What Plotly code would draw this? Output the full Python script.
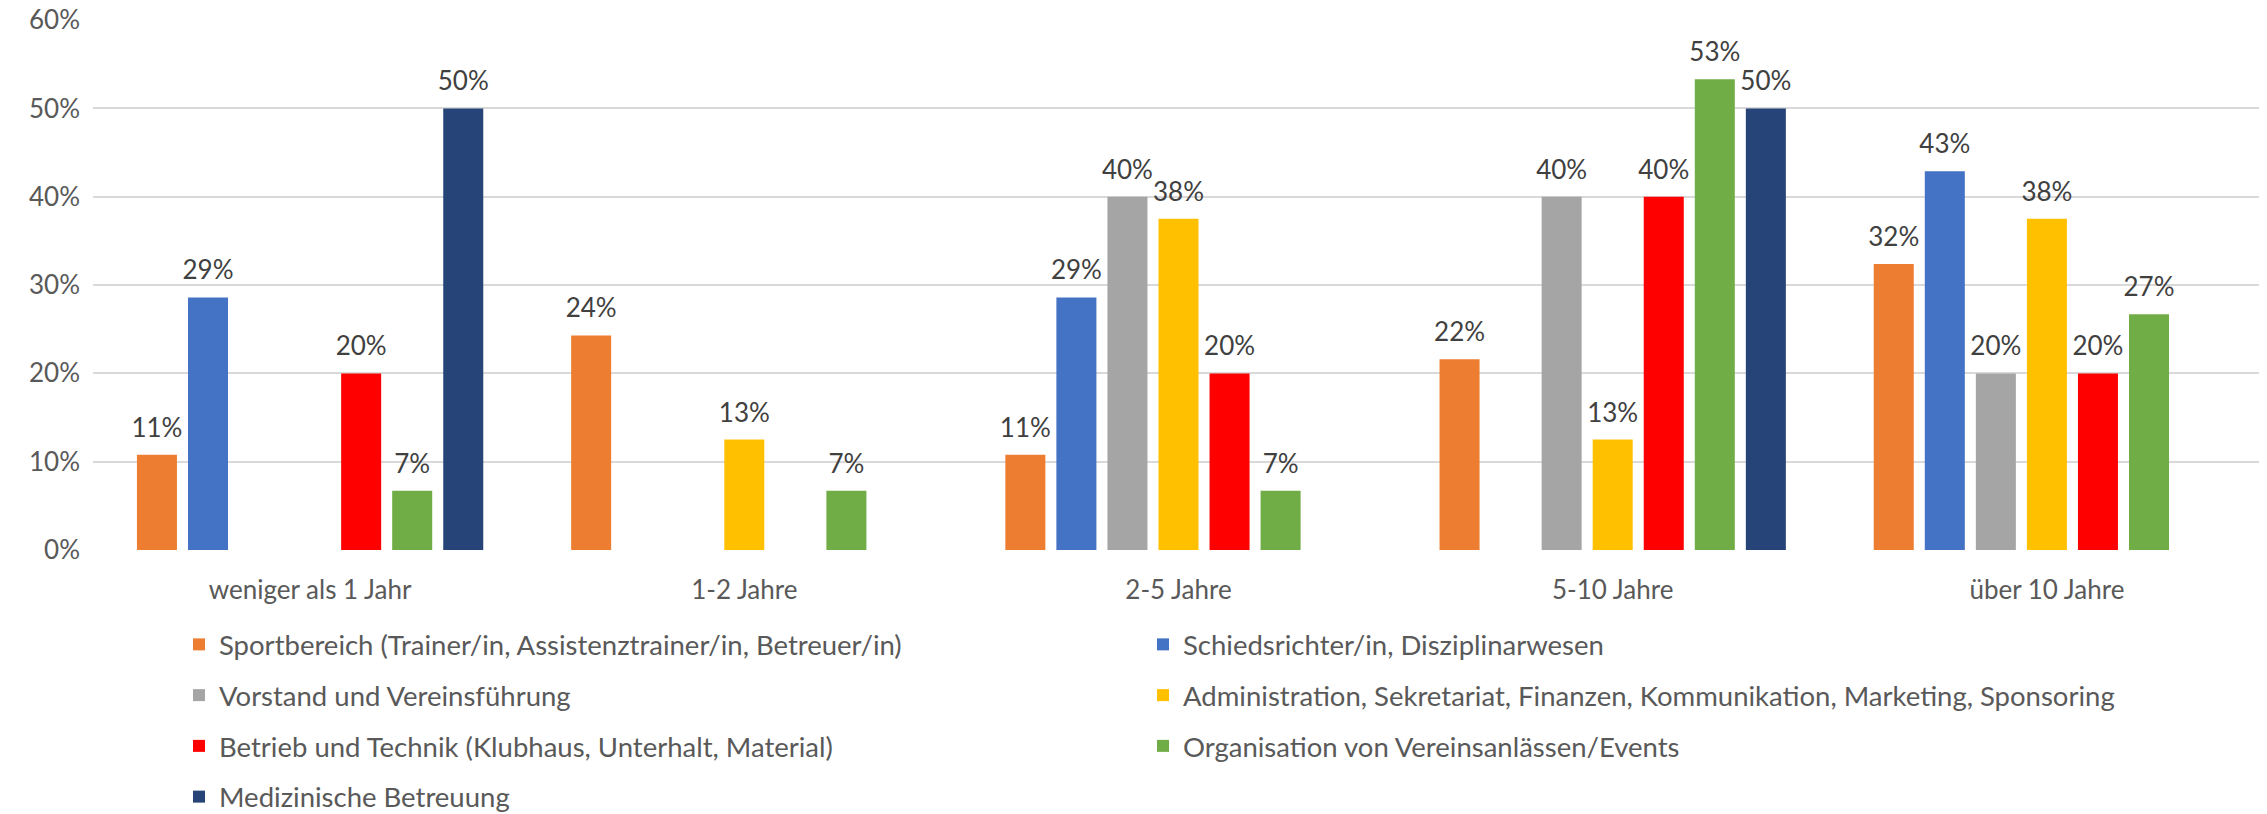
import plotly.graph_objects as go

categories = ["weniger als 1 Jahr", "1-2 Jahre", "2-5 Jahre", "5-10 Jahre", "über 10 Jahre"]

series_names = [
    "Sportbereich (Trainer/in, Assistenztrainer/in, Betreuer/in)",
    "Schiedsrichter/in, Disziplinarwesen",
    "Vorstand und Vereinsführung",
    "Administration, Sekretariat, Finanzen, Kommunikation, Marketing, Sponsoring",
    "Betrieb und Technik (Klubhaus, Unterhalt, Material)",
    "Organisation von Vereinsanlässen/Events",
    "Medizinische Betreuung",
]

sportbereich = [0.108, 0.243, 0.108, 0.216, 0.324]
schiedsrichter = [0.286, 0.0, 0.286, 0.0, 0.429]
vorstand = [0.0, 0.0, 0.40, 0.40, 0.20]
administration = [0.0, 0.125, 0.375, 0.125, 0.375]
betrieb = [0.20, 0.0, 0.20, 0.40, 0.20]
organisation = [0.067, 0.067, 0.067, 0.533, 0.267]
medizin = [0.50, 0.0, 0.0, 0.50, 0.0]

y_tick_values = [0.0, 0.1, 0.2, 0.3, 0.4, 0.5, 0.6]
y_tick_labels = ["0%", "10%", "20%", "30%", "40%", "50%", "60%"]

series_values = [sportbereich, schiedsrichter, vorstand, administration, betrieb, organisation, medizin]
colors = ["#ED7D31", "#4472C4", "#A5A5A5", "#FFC000", "#FF0000", "#70AD47", "#264478"]
legend_columns = ["legend", "legend2", "legend", "legend2", "legend", "legend2", "legend"]

FONT = "Lato, 'Open Sans', sans-serif"
FS = 26
LEG_FS = 27.5
AXIS_COLOR = "#595959"
LABEL_COLOR = "#404040"

# invisible wide-bodied spacer so the outside labels sit a little higher above the bars
PAD = "<span style='font-size:70px'>\u00a0</span>"


def pct_label(v):
    return f"{PAD}{int(v * 100 + 0.5)}%{PAD}" if v > 0 else ""


fig = go.Figure()
for name, vals, col, leg in zip(series_names, series_values, colors, legend_columns):
    fig.add_trace(go.Bar(
        x=categories,
        y=vals,
        name=name,
        legend=leg,
        legendgroup=name,
        marker=dict(color=col, line=dict(width=0)),
        text=[pct_label(v) for v in vals],
        textposition="outside",
        constraintext="none",
        textfont=dict(family=FONT, size=FS, color=LABEL_COLOR),
        cliponaxis=False,
        hovertemplate="%{x}: %{y:.1%}<extra>" + name + "</extra>",
    ))

legend_common = dict(
    orientation="v",
    xref="container",
    yref="container",
    xanchor="left",
    yanchor="top",
    y=1 - 612 / 814,
    traceorder="grouped",
    tracegroupgap=12,
    font=dict(family=FONT, size=LEG_FS, color=AXIS_COLOR),
    bgcolor="rgba(0,0,0,0)",
    itemclick=False,
    itemdoubleclick=False,
)

fig.update_layout(
    width=2267,
    height=814,
    paper_bgcolor="white",
    plot_bgcolor="white",
    margin=dict(l=85, r=11, t=12, b=272, autoexpand=False),
    barmode="group",
    bargap=0.177,
    bargroupgap=0.216,
    font=dict(family=FONT, size=FS, color=AXIS_COLOR),
    legend=dict(x=171 / 2267, **legend_common),
    legend2=dict(x=1135 / 2267, **legend_common),
    xaxis=dict(
        showgrid=False,
        showline=False,
        zeroline=False,
        ticks="",
        tickangle=0,
        automargin=False,
        tickfont=dict(family=FONT, size=FS, color=AXIS_COLOR),
        ticklabelstandoff=22,
    ),
    yaxis=dict(
        range=[0, 0.6002],
        tickmode="array",
        tickvals=y_tick_values,
        ticktext=y_tick_labels,
        ticklabeloverflow="allow",
        showgrid=True,
        gridcolor="#D9D9D9",
        gridwidth=1.5,
        zeroline=False,
        showline=False,
        ticks="",
        automargin=False,
        tickfont=dict(family=FONT, size=FS, color=AXIS_COLOR),
        ticklabelstandoff=12,
    ),
)

fig.write_html("out.html")
